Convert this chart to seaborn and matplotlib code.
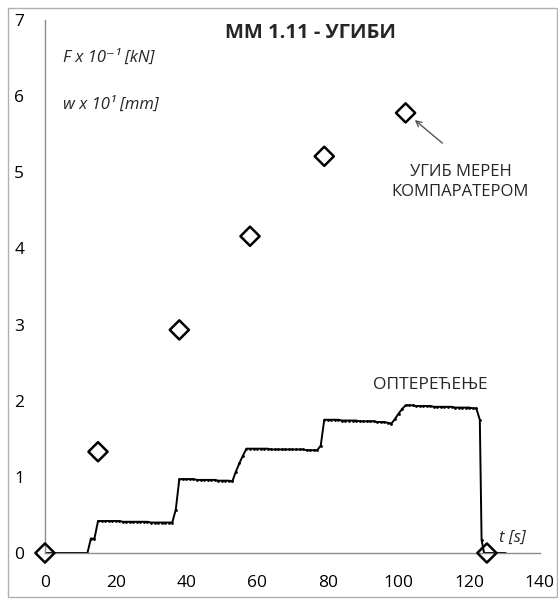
import matplotlib
matplotlib.use("Agg")

import matplotlib.pyplot as plt
import matplotlib.patches as mpatches
import seaborn as sns


# =========================================================
# DATA
# =========================================================

# deflection measured with the dial gauge, w x 10^1 [mm]
gauge_time = [0, 15, 38, 58, 79, 102, 125]
gauge_defl = [0.0, 1.33, 2.93, 4.16, 5.21, 5.78, 0.0]

# applied load, F x 10^-1 [kN]
load_time = [
    0, 1, 2, 3, 4, 5, 6, 7, 8, 9, 10, 11, 12, 13, 14, 15,
    16, 17, 18, 19, 20, 21, 22, 23, 24, 25, 26, 27, 28, 29, 30,
    31, 32, 33, 34, 35, 36, 37, 38, 39, 40, 41, 42, 43, 44, 45,
    46, 47, 48, 49, 50, 51, 52, 53, 54, 55, 56, 57, 58, 59, 60,
    61, 62, 63, 64, 65, 66, 67, 68, 69, 70, 71, 72, 73, 74, 75,
    76, 77, 78, 79, 80, 81, 82, 83, 84, 85, 86, 87, 88, 89, 90,
    91, 92, 93, 94, 95, 96, 97, 98, 99, 100, 101, 102, 103, 104,
    105, 106, 107, 108, 109, 110, 111, 112, 113, 114, 115, 116,
    117, 118, 119, 120, 121, 122, 123, 123.5, 124.2, 125, 126,
    127, 128, 129, 130,
]
load_force = [
    0.0, 0.0, 0.0, 0.0, 0.0, 0.0, 0.0, 0.0, 0.0, 0.0, 0.0, 0.0, 0.0,
    0.19, 0.19, 0.42,
    0.42, 0.42, 0.42, 0.42, 0.42, 0.42, 0.41, 0.41, 0.41, 0.41, 0.41,
    0.41, 0.41, 0.41, 0.40, 0.40, 0.40, 0.40, 0.40, 0.40, 0.40,
    0.57, 0.97,
    0.97, 0.97, 0.97, 0.97, 0.96, 0.96, 0.96, 0.96, 0.96, 0.96, 0.95,
    0.95, 0.95, 0.95, 0.94,
    1.07, 1.18, 1.28, 1.37,
    1.37, 1.37, 1.37, 1.37, 1.37, 1.37, 1.36, 1.36, 1.36, 1.36, 1.36,
    1.36, 1.36, 1.36, 1.36, 1.36, 1.35, 1.35, 1.35, 1.35,
    1.41, 1.75,
    1.75, 1.75, 1.75, 1.75, 1.74, 1.74, 1.74, 1.74, 1.74, 1.73, 1.73,
    1.73, 1.73, 1.73, 1.72, 1.72, 1.72, 1.71, 1.70,
    1.76, 1.83, 1.89, 1.94,
    1.94, 1.94, 1.93, 1.93, 1.93, 1.93, 1.93, 1.92, 1.92, 1.92, 1.92,
    1.92, 1.92, 1.91, 1.91, 1.91, 1.91, 1.91, 1.90, 1.90,
    1.75, 0.17, 0.0, 0.0, 0.0, 0.0, 0.0, 0.0, 0.0,
]

x_ticks = [0, 20, 40, 60, 80, 100, 120, 140]
y_ticks = [0, 1, 2, 3, 4, 5, 6, 7]

title = "MM 1.11 - УГИБИ"
force_label = "F x 10⁻¹ [kN]"
defl_label = "w x 10¹ [mm]"
gauge_note = "УГИБ МЕРЕН\nКОМПАРАТЕРОМ"
load_note = "ОПТЕРЕЋЕЊЕ"
time_label = "t [s]"


# =========================================================
# STYLE
# =========================================================

sns.set_style("white")
plt.rcParams["font.family"] = ["Open Sans", "DejaVu Sans"]

axis_grey = "#8c8c8c"


# =========================================================
# FIGURE
# =========================================================

fig = plt.figure(figsize=(5.58, 5.99), dpi=100)
ax = fig.add_axes([0.0806, 0.0768, 0.887, 0.8898])

sns.lineplot(
    x=load_time,
    y=load_force,
    color="black",
    linewidth=1.4,
    marker="o",
    markersize=2,
    markeredgewidth=0,
    ax=ax,
)

sns.scatterplot(
    x=gauge_time,
    y=gauge_defl,
    marker="D",
    s=95,
    facecolor="none",
    edgecolor="black",
    linewidth=1.8,
    zorder=5,
    clip_on=False,
    ax=ax,
)

ax.set_xlim(0, 140)
ax.set_ylim(0, 7)
ax.set_xticks(x_ticks)
ax.set_yticks(y_ticks)

for side in ["top", "right"]:
    ax.spines[side].set_visible(False)
for side in ["left", "bottom"]:
    ax.spines[side].set_color(axis_grey)
    ax.spines[side].set_linewidth(1)

ax.tick_params(
    axis="both",
    direction="out",
    length=5,
    width=1,
    color=axis_grey,
    labelsize=12.5,
    labelcolor="black",
)
ax.tick_params(axis="x", pad=11)
ax.tick_params(axis="y", pad=10)
ax.set_xlabel("")
ax.set_ylabel("")

ax.text(
    75, 6.83, title,
    ha="center", va="center",
    fontsize=14.5, fontweight="bold",
)

ax.text(5, 6.5, force_label, ha="left", va="center",
        fontsize=12, style="italic")
ax.text(5, 5.88, defl_label, ha="left", va="center",
        fontsize=12, style="italic")

ax.annotate(
    "",
    xy=(104.0, 5.71),
    xytext=(113.0, 5.36),
    arrowprops=dict(
        arrowstyle="->",
        color="#555555",
        linewidth=1,
    ),
)
ax.text(117.5, 4.87, gauge_note, ha="center", va="center",
        fontsize=12, linespacing=1.3)

ax.text(109, 2.21, load_note, ha="center", va="center", fontsize=12.5)

ax.text(128.5, 0.2, time_label, ha="left", va="center",
        fontsize=12, style="italic")

# chart area border
fig.patches.append(
    mpatches.Rectangle(
        (0.014, 0.003), 0.984, 0.984,
        transform=fig.transFigure,
        fill=False,
        edgecolor="#b0b0b0",
        linewidth=1,
    )
)

fig.savefig("out.png", dpi=100)
